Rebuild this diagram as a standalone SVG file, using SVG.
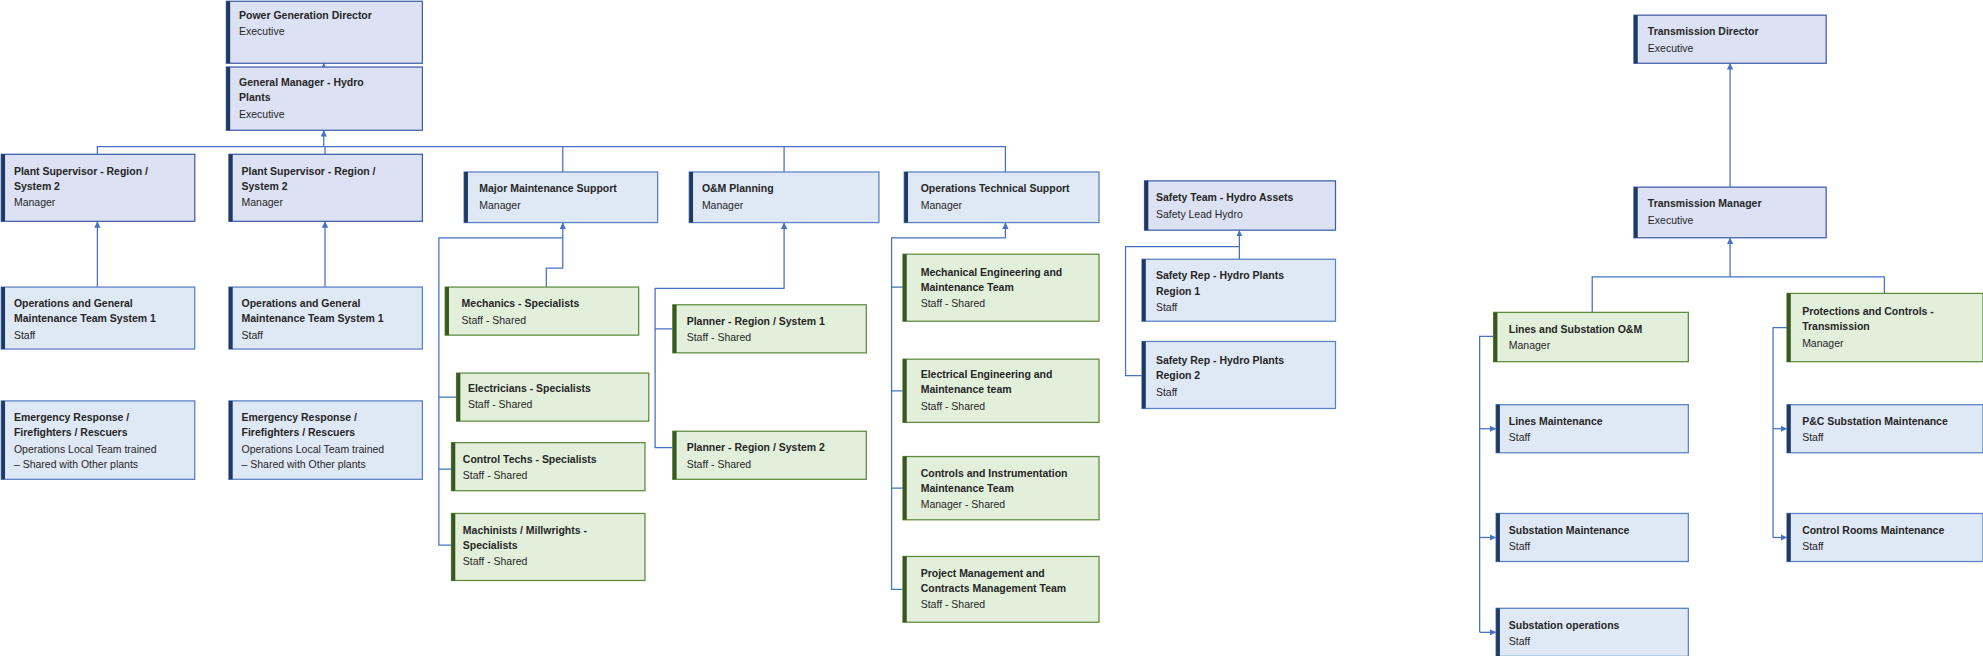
<svg xmlns="http://www.w3.org/2000/svg" width="1983" height="656" viewBox="0 0 1983 656">
<defs>
<marker id="ar" viewBox="0 0 10 10" refX="10" refY="5" markerWidth="5" markerHeight="5" orient="auto"><path d="M0,0L10,5L0,10z" fill="#4472c4"/></marker>
<style>
.b rect.f{fill:#dfe8f5;stroke:#5b80c4;stroke-width:1}
.p rect.f{fill:#dce2f3;stroke:#3f5fa8;stroke-width:1}
.g rect.f{fill:#e2efda;stroke:#5f8a3f;stroke-width:1}
.b rect.s,.p rect.s{fill:#1f3864}
.g rect.s{fill:#385723}
text{font-family:"Liberation Sans",Arial,sans-serif;font-size:8.3px;fill:#262626}
text.t{font-weight:bold}
#conn path{fill:none;stroke:#4472c4;stroke-width:1}
</style>
</defs>
<rect width="1983" height="656" fill="#fff"/>
<g transform="scale(1.26467)">
<g id="conn">
<path d="M256,53V50" marker-end="url(#ar)"/>
<path d="M77,122V116H795V136M257,122V116M445,136V116M620,136V116"/>
<path d="M256,116V103" marker-end="url(#ar)"/>
<path d="M77,227V175" marker-end="url(#ar)"/>
<path d="M257,227V175" marker-end="url(#ar)"/>
<path d="M432,227V212H445V176" marker-end="url(#ar)"/>
<path d="M445,188H347V431H357M347,314H361M347,371H357"/>
<path d="M518,260V228H620V176" marker-end="url(#ar)"/>
<path d="M532,260H518V354H532"/>
<path d="M714,227H705V188H795V176" marker-end="url(#ar)"/>
<path d="M705,227V466H714M705,309H714M705,386H714"/>
<path d="M980,205V182" marker-end="url(#ar)"/>
<path d="M980,195H890V297H903"/>
<path d="M1368,148V50" marker-end="url(#ar)"/>
<path d="M1368,219V188" marker-end="url(#ar)"/>
<path d="M1259,247V219H1490V232"/>
<path d="M1181,266H1170V500"/>
<path d="M1170,339H1183" marker-end="url(#ar)"/>
<path d="M1170,425H1183" marker-end="url(#ar)"/>
<path d="M1170,500H1183" marker-end="url(#ar)"/>
<path d="M1413,259H1402V425"/>
<path d="M1402,339H1413" marker-end="url(#ar)"/>
<path d="M1402,425H1413" marker-end="url(#ar)"/>
</g>

<g id="n1" class="p"><rect class="f" x="179" y="1" width="155" height="49"/><rect class="s" x="179" y="1" width="3" height="49"/><text class="t" x="189" y="15">Power Generation Director</text><text x="189" y="28">Executive</text></g>
<g id="n2" class="p"><rect class="f" x="179" y="53" width="155" height="50"/><rect class="s" x="179" y="53" width="3" height="50"/><text class="t" x="189" y="68">General Manager - Hydro</text><text class="t" x="189" y="80">Plants</text><text x="189" y="93">Executive</text></g>
<g id="n3" class="p"><rect class="f" x="1" y="122" width="153" height="53"/><rect class="s" x="1" y="122" width="3" height="53"/><text class="t" x="11" y="138">Plant Supervisor - Region /</text><text class="t" x="11" y="150">System 2</text><text x="11" y="163">Manager</text></g>
<g id="n4" class="p"><rect class="f" x="181" y="122" width="153" height="53"/><rect class="s" x="181" y="122" width="3" height="53"/><text class="t" x="191" y="138">Plant Supervisor - Region /</text><text class="t" x="191" y="150">System 2</text><text x="191" y="163">Manager</text></g>
<g id="n5" class="b"><rect class="f" x="367" y="136" width="153" height="40"/><rect class="s" x="367" y="136" width="3" height="40"/><text class="t" x="379" y="152">Major Maintenance Support</text><text x="379" y="165">Manager</text></g>
<g id="n6" class="b"><rect class="f" x="545" y="136" width="150" height="40"/><rect class="s" x="545" y="136" width="3" height="40"/><text class="t" x="555" y="152">O&amp;M Planning</text><text x="555" y="165">Manager</text></g>
<g id="n7" class="b"><rect class="f" x="715" y="136" width="154" height="40"/><rect class="s" x="715" y="136" width="3" height="40"/><text class="t" x="728" y="152">Operations Technical Support</text><text x="728" y="165">Manager</text></g>
<g id="n8" class="p"><rect class="f" x="905" y="143" width="151" height="39"/><rect class="s" x="905" y="143" width="3" height="39"/><text class="t" x="914" y="159">Safety Team - Hydro Assets</text><text x="914" y="172">Safety Lead Hydro</text></g>
<g id="n9" class="b"><rect class="f" x="1" y="227" width="153" height="49"/><rect class="s" x="1" y="227" width="3" height="49"/><text class="t" x="11" y="243">Operations and General</text><text class="t" x="11" y="255">Maintenance Team System 1</text><text x="11" y="268">Staff</text></g>
<g id="n10" class="b"><rect class="f" x="181" y="227" width="153" height="49"/><rect class="s" x="181" y="227" width="3" height="49"/><text class="t" x="191" y="243">Operations and General</text><text class="t" x="191" y="255">Maintenance Team System 1</text><text x="191" y="268">Staff</text></g>
<g id="n11" class="b"><rect class="f" x="1" y="317" width="153" height="62"/><rect class="s" x="1" y="317" width="3" height="62"/><text class="t" x="11" y="333">Emergency Response /</text><text class="t" x="11" y="345">Firefighters / Rescuers</text><text x="11" y="358">Operations Local Team trained</text><text x="11" y="370">– Shared with Other plants</text></g>
<g id="n12" class="b"><rect class="f" x="181" y="317" width="153" height="62"/><rect class="s" x="181" y="317" width="3" height="62"/><text class="t" x="191" y="333">Emergency Response /</text><text class="t" x="191" y="345">Firefighters / Rescuers</text><text x="191" y="358">Operations Local Team trained</text><text x="191" y="370">– Shared with Other plants</text></g>
<g id="n13" class="g"><rect class="f" x="352" y="227" width="153" height="38"/><rect class="s" x="352" y="227" width="3" height="38"/><text class="t" x="365" y="243">Mechanics - Specialists</text><text x="365" y="256">Staff - Shared</text></g>
<g id="n14" class="g"><rect class="f" x="361" y="295" width="152" height="38"/><rect class="s" x="361" y="295" width="3" height="38"/><text class="t" x="370" y="310">Electricians - Specialists</text><text x="370" y="323">Staff - Shared</text></g>
<g id="n15" class="g"><rect class="f" x="357" y="350" width="153" height="38"/><rect class="s" x="357" y="350" width="3" height="38"/><text class="t" x="366" y="366">Control Techs - Specialists</text><text x="366" y="379">Staff - Shared</text></g>
<g id="n16" class="g"><rect class="f" x="357" y="406" width="153" height="53"/><rect class="s" x="357" y="406" width="3" height="53"/><text class="t" x="366" y="422">Machinists / Millwrights -</text><text class="t" x="366" y="434">Specialists</text><text x="366" y="447">Staff - Shared</text></g>
<g id="n17" class="g"><rect class="f" x="532" y="241" width="153" height="38"/><rect class="s" x="532" y="241" width="3" height="38"/><text class="t" x="543" y="257">Planner - Region / System 1</text><text x="543" y="270">Staff - Shared</text></g>
<g id="n18" class="g"><rect class="f" x="532" y="341" width="153" height="38"/><rect class="s" x="532" y="341" width="3" height="38"/><text class="t" x="543" y="357">Planner - Region / System 2</text><text x="543" y="370">Staff - Shared</text></g>
<g id="n19" class="g"><rect class="f" x="714" y="201" width="155" height="53"/><rect class="s" x="714" y="201" width="3" height="53"/><text class="t" x="728" y="218">Mechanical Engineering and</text><text class="t" x="728" y="230">Maintenance Team</text><text x="728" y="243">Staff - Shared</text></g>
<g id="n20" class="g"><rect class="f" x="714" y="284" width="155" height="50"/><rect class="s" x="714" y="284" width="3" height="50"/><text class="t" x="728" y="299">Electrical Engineering and</text><text class="t" x="728" y="311">Maintenance team</text><text x="728" y="324">Staff - Shared</text></g>
<g id="n21" class="g"><rect class="f" x="714" y="361" width="155" height="50"/><rect class="s" x="714" y="361" width="3" height="50"/><text class="t" x="728" y="377">Controls and Instrumentation</text><text class="t" x="728" y="389">Maintenance Team</text><text x="728" y="402">Manager - Shared</text></g>
<g id="n22" class="g"><rect class="f" x="714" y="440" width="155" height="52"/><rect class="s" x="714" y="440" width="3" height="52"/><text class="t" x="728" y="456">Project Management and</text><text class="t" x="728" y="468">Contracts Management Team</text><text x="728" y="481">Staff - Shared</text></g>
<g id="n23" class="b"><rect class="f" x="903" y="205" width="153" height="49"/><rect class="s" x="903" y="205" width="3" height="49"/><text class="t" x="914" y="221">Safety Rep - Hydro Plants</text><text class="t" x="914" y="233">Region 1</text><text x="914" y="246">Staff</text></g>
<g id="n24" class="b"><rect class="f" x="903" y="270" width="153" height="53"/><rect class="s" x="903" y="270" width="3" height="53"/><text class="t" x="914" y="288">Safety Rep - Hydro Plants</text><text class="t" x="914" y="300">Region 2</text><text x="914" y="313">Staff</text></g>
<g id="n25" class="p"><rect class="f" x="1292" y="12" width="152" height="38"/><rect class="s" x="1292" y="12" width="3" height="38"/><text class="t" x="1303" y="28">Transmission Director</text><text x="1303" y="41">Executive</text></g>
<g id="n26" class="p"><rect class="f" x="1292" y="148" width="152" height="40"/><rect class="s" x="1292" y="148" width="3" height="40"/><text class="t" x="1303" y="164">Transmission Manager</text><text x="1303" y="177">Executive</text></g>
<g id="n27" class="g"><rect class="f" x="1181" y="247" width="154" height="39"/><rect class="s" x="1181" y="247" width="3" height="39"/><text class="t" x="1193" y="263">Lines and Substation O&amp;M</text><text x="1193" y="276">Manager</text></g>
<g id="n28" class="g"><rect class="f" x="1413" y="232" width="155" height="54"/><rect class="s" x="1413" y="232" width="3" height="54"/><text class="t" x="1425" y="249">Protections and Controls -</text><text class="t" x="1425" y="261">Transmission</text><text x="1425" y="274">Manager</text></g>
<g id="n29" class="b"><rect class="f" x="1183" y="320" width="152" height="38"/><rect class="s" x="1183" y="320" width="3" height="38"/><text class="t" x="1193" y="336">Lines Maintenance</text><text x="1193" y="349">Staff</text></g>
<g id="n30" class="b"><rect class="f" x="1183" y="406" width="152" height="38"/><rect class="s" x="1183" y="406" width="3" height="38"/><text class="t" x="1193" y="422">Substation Maintenance</text><text x="1193" y="435">Staff</text></g>
<g id="n31" class="b"><rect class="f" x="1183" y="481" width="152" height="38"/><rect class="s" x="1183" y="481" width="3" height="38"/><text class="t" x="1193" y="497">Substation operations</text><text x="1193" y="510">Staff</text></g>
<g id="n32" class="b"><rect class="f" x="1413" y="320" width="155" height="38"/><rect class="s" x="1413" y="320" width="3" height="38"/><text class="t" x="1425" y="336">P&amp;C Substation Maintenance</text><text x="1425" y="349">Staff</text></g>
<g id="n33" class="b"><rect class="f" x="1413" y="406" width="155" height="38"/><rect class="s" x="1413" y="406" width="3" height="38"/><text class="t" x="1425" y="422">Control Rooms Maintenance</text><text x="1425" y="435">Staff</text></g>
</g>
</svg>
